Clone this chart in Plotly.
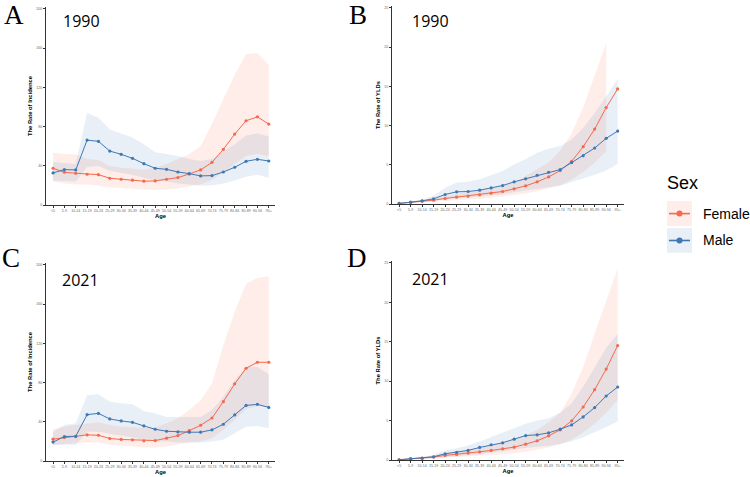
import plotly.graph_objects as go

ages = ["<5", "5-9", "10-14", "15-19", "20-24", "25-29", "30-34", "35-39", "40-44", "45-49",
        "50-54", "55-59", "60-64", "65-69", "70-74", "75-79", "80-84", "85-89", "90-94", "95+"]

# Panel A: incidence 1990
inc1990_f = [37.6, 33.5, 32.5, 31.5, 31.1, 27.4, 26.4, 25.4, 24.4, 24.7, 26.4, 28.1, 31.8, 35.9, 43.6, 56.8, 72.4, 86.0, 90.0, 82.6]
inc1990_f_up = [53.5, 52, 51.5, 47, 46, 40, 38, 37, 36, 38, 42, 47, 52, 60, 83, 108, 133, 154, 155, 143]
inc1990_f_lo = [24, 22, 21, 21, 20, 18, 17.5, 17, 16, 15.5, 16, 17, 19, 21, 26, 33, 42, 50, 52, 50]
inc1990_m = [32.8, 36.2, 35.9, 66.3, 65.0, 55.1, 51.8, 47.7, 42.3, 37.6, 36.5, 33.8, 32.1, 29.8, 30.1, 33.8, 38.6, 44.7, 46.7, 45.0]
inc1990_m_up = [44, 43, 42, 94, 89, 77, 73, 69, 62, 54, 52, 50, 47, 45, 47, 55, 62, 71, 73, 70]
inc1990_m_lo = [25, 24.5, 24, 39, 40, 35, 33, 31, 28, 25, 24, 22, 21, 20, 20, 22, 25, 29, 31, 28]

# Panel B: YLDs 1990
yld1990_f = [0.09, 0.21, 0.38, 0.51, 0.72, 0.89, 1.02, 1.18, 1.40, 1.61, 1.95, 2.33, 2.84, 3.47, 4.27, 5.46, 7.32, 9.56, 12.3, 14.68]
yld1990_f_up = [0.15, 0.3, 0.5, 0.75, 1.05, 1.3, 1.5, 1.7, 2.0, 2.3, 2.75, 3.6, 4.4, 5.3, 6.8, 9.0, 12.3, 16.3, 20.5, None]
yld1990_f_lo = [0.05, 0.12, 0.22, 0.3, 0.42, 0.52, 0.6, 0.7, 0.82, 0.95, 1.15, 1.35, 1.65, 2.0, 2.45, 3.1, 4.1, 5.3, 6.7, None]
yld1990_m = [0.09, 0.25, 0.42, 0.68, 1.23, 1.57, 1.61, 1.78, 2.07, 2.37, 2.84, 3.22, 3.68, 4.06, 4.4, 5.29, 6.18, 7.15, 8.38, 9.31]
yld1990_m_up = [0.15, 0.35, 0.6, 1.06, 2.1, 2.75, 2.84, 3.17, 3.68, 4.23, 5.07, 5.71, 6.56, 7.06, 7.4, 8.25, 9.7, 11.6, 13.7, 15.95]
yld1990_m_lo = [0.05, 0.15, 0.25, 0.4, 0.65, 0.8, 0.85, 0.95, 1.1, 1.25, 1.5, 1.7, 1.95, 2.15, 2.35, 2.8, 3.25, 3.75, 4.3, 5.1]

# Panel C: incidence 2021
inc2021_f = [22.3, 24, 25, 26.7, 26.3, 23, 22, 21.6, 20.6, 20.9, 23.3, 26, 31, 36.5, 43.9, 60.5, 78.7, 94.6, 100.7, 100.7]
inc2021_f_up = [32.4, 35, 36.8, 38.5, 39.5, 36.8, 35, 34.5, 33.4, 34.5, 38.5, 43.6, 52, 62, 79, 118, 152, 180.7, 186.5, 188.5]
inc2021_f_lo = [16.5, 17.6, 18.2, 19, 19, 16.5, 15.5, 14.9, 13.9, 13.9, 14.9, 16.9, 19, 20, 23.3, 31.8, 42, 53, 56, 55]
inc2021_m = [19.3, 25, 25.3, 47.3, 48.6, 42.9, 40.9, 39.5, 35.8, 32.4, 30.4, 29.7, 29.4, 29.4, 31.8, 37.5, 47, 56.7, 57.8, 54.7]
inc2021_m_up = [30, 36.8, 38.5, 67, 68, 60.5, 58.8, 57.8, 51, 48.6, 45, 45, 45, 45, 52, 65.5, 82, 96, 96, 88.5]
inc2021_m_lo = [16, 16.5, 16.5, 30, 30, 27.7, 25.7, 24.3, 21.6, 20, 20, 19, 19, 19, 20, 21.6, 28.4, 35, 35.8, 33.4]

# Panel D: YLDs 2021
yld2021_f = [0.04, 0.13, 0.21, 0.38, 0.59, 0.72, 0.88, 1.05, 1.22, 1.43, 1.64, 2.02, 2.44, 3.07, 3.83, 4.97, 6.73, 8.92, 11.53, 14.52]
yld2021_f_up = [0.08, 0.2, 0.35, 0.6, 0.9, 1.1, 1.35, 1.6, 1.85, 2.15, 2.5, 3.1, 3.8, 4.8, 6.0, 8.4, 11.8, 16.0, 20.2, 24.3]
yld2021_f_lo = [0.02, 0.06, 0.1, 0.2, 0.3, 0.38, 0.46, 0.55, 0.65, 0.75, 0.85, 1.05, 1.3, 1.6, 2.0, 2.6, 3.5, 4.6, 6.0, 7.6]
yld2021_m = [0.04, 0.17, 0.25, 0.42, 0.8, 0.97, 1.22, 1.6, 1.94, 2.19, 2.65, 3.11, 3.2, 3.45, 3.91, 4.46, 5.47, 6.65, 8.12, 9.26]
yld2021_m_up = [0.1, 0.25, 0.4, 0.65, 1.2, 1.5, 1.85, 2.35, 2.9, 3.4, 4.0, 4.6, 5.0, 5.3, 6.0, 7.2, 9.3, 11.7, 14.2, 16.0]
yld2021_m_lo = [0.02, 0.08, 0.13, 0.22, 0.4, 0.5, 0.62, 0.78, 0.95, 1.1, 1.3, 1.55, 1.65, 1.8, 2.05, 2.4, 2.9, 3.5, 4.2, 4.9]

inc_ticks = [0, 40, 80, 120, 160, 200]
yld_ticks = [0, 5, 10, 15, 20, 25]

W, H = 750, 477
F_COL = "#F6694E"
M_COL = "#3F79B4"
F_BAND = "rgba(246,105,78,0.12)"
M_BAND = "rgba(63,121,180,0.12)"


def px(x):
    return x / W


def py(y):
    return 1 - y / H


fig = go.Figure()


def band(xa, ya, up, lo, color):
    xs, us, ls = [], [], []
    for a, u, l in zip(ages, up, lo):
        if u is None or l is None:
            continue
        xs.append(a)
        us.append(u)
        ls.append(l)
    fig.add_trace(go.Scatter(x=xs + xs[::-1], y=us + ls[::-1], fill="toself", fillcolor=color,
                             line=dict(width=0), mode="lines", hoverinfo="skip",
                             showlegend=False, xaxis=xa, yaxis=ya))


def line(xa, ya, vals, color, name):
    fig.add_trace(go.Scatter(x=ages, y=vals, mode="lines+markers", name=name,
                             line=dict(color=color, width=1),
                             marker=dict(color=color, size=3.2),
                             showlegend=False, xaxis=xa, yaxis=ya))


panels = [
    ("x", "y", inc1990_f, inc1990_f_up, inc1990_f_lo, inc1990_m, inc1990_m_up, inc1990_m_lo),
    ("x2", "y2", yld1990_f, yld1990_f_up, yld1990_f_lo, yld1990_m, yld1990_m_up, yld1990_m_lo),
    ("x3", "y3", inc2021_f, inc2021_f_up, inc2021_f_lo, inc2021_m, inc2021_m_up, inc2021_m_lo),
    ("x4", "y4", yld2021_f, yld2021_f_up, yld2021_f_lo, yld2021_m, yld2021_m_up, yld2021_m_lo),
]
for xa, ya, f, fu, fl, m, mu, ml in panels:
    band(xa, ya, fu, fl, F_BAND)
    band(xa, ya, mu, ml, M_BAND)
    line(xa, ya, f, F_COL, "Female")
    line(xa, ya, m, M_COL, "Male")

tick_font = dict(family="Liberation Sans", size=3.6, color="#666666")
title_font = dict(family="Liberation Sans", size=5.8, color="black")

xdom_left = [px(46), px(275)]
xdom_right = [px(392), px(624)]


def xaxis_cfg(dom, anchor):
    return dict(domain=dom, anchor=anchor, type="category", categoryorder="array", categoryarray=ages,
                range=[-0.62, 19.55], showline=True, linecolor="#333333", linewidth=1,
                ticks="outside", ticklen=2, tickwidth=0.8, tickcolor="#333333",
                showgrid=False, zeroline=False, tickfont=tick_font, tickangle=0,
                title=dict(text="<b>Age</b>", font=title_font, standoff=0))


def yaxis_cfg(dom, anchor, rng, ticks, title):
    return dict(domain=dom, anchor=anchor, range=rng, tickvals=ticks, showline=True,
                linecolor="#333333", linewidth=1, ticks="outside", ticklen=2, tickwidth=0.8,
                tickcolor="#333333", showgrid=False, zeroline=False, tickfont=tick_font,
                title=dict(text="<b>" + title + "</b>", font=title_font, standoff=3))


fig.update_layout(
    width=W, height=H, margin=dict(l=0, r=0, t=0, b=0),
    paper_bgcolor="white", plot_bgcolor="white", showlegend=False,
    xaxis=xaxis_cfg(xdom_left, "y"),
    yaxis=yaxis_cfg([py(206), py(7)], "x", [0, 202], inc_ticks, "The Rate of Incidence"),
    xaxis2=xaxis_cfg(xdom_right, "y2"),
    yaxis2=yaxis_cfg([py(205), py(6)], "x2", [0, 25.25], yld_ticks, "The Rate of YLDs"),
    xaxis3=xaxis_cfg(xdom_left, "y3"),
    yaxis3=yaxis_cfg([py(463), py(264)], "x3", [0, 202], inc_ticks, "The Rate of Incidence"),
    xaxis4=xaxis_cfg(xdom_right, "y4"),
    yaxis4=yaxis_cfg([py(462), py(262)], "x4", [0, 25.25], yld_ticks, "The Rate of YLDs"),
)

annotations = []
# panel letters
for letter, cx, cy in [("A", 14, 15), ("B", 358, 15), ("C", 11, 259), ("D", 357, 259)]:
    annotations.append(dict(text=letter, x=px(cx), y=py(cy), xref="paper", yref="paper",
                            showarrow=False, xanchor="center", yanchor="middle",
                            font=dict(family="Liberation Serif", size=27, color="black")))
# year labels
for year, cx, cy in [("1990", 81, 21), ("1990", 430, 21), ("2021", 80, 281), ("2021", 430, 280)]:
    annotations.append(dict(text=year, x=px(cx), y=py(cy), xref="paper", yref="paper",
                            showarrow=False, xanchor="center", yanchor="middle",
                            font=dict(family="Open Sans", size=16, color="black")))

# legend (drawn by hand to match ggplot key style)
annotations.append(dict(text="Sex", x=px(665), y=py(184), xref="paper", yref="paper", showarrow=False,
                        xanchor="left", yanchor="middle",
                        font=dict(family="Liberation Sans", size=18, color="black")))
shapes = []
for name, col, bandcol, top in [("Female", F_COL, F_BAND, 202), ("Male", M_COL, M_BAND, 229)]:
    cy = top + 12.5
    shapes.append(dict(type="rect", xref="paper", yref="paper", x0=px(667), x1=px(692),
                       y0=py(top), y1=py(top + 25), fillcolor=bandcol, line=dict(width=0)))
    shapes.append(dict(type="line", xref="paper", yref="paper", x0=px(669), x1=px(690),
                       y0=py(cy), y1=py(cy), line=dict(color=col, width=1.6)))
    shapes.append(dict(type="circle", xref="paper", yref="paper", x0=px(676.5), x1=px(682.5),
                       y0=py(cy + 3), y1=py(cy - 3), fillcolor=col, line=dict(width=0)))
    annotations.append(dict(text=name, x=px(701), y=py(cy), xref="paper", yref="paper", showarrow=False,
                            xanchor="left", yanchor="middle",
                            font=dict(family="Liberation Sans", size=14, color="black")))

fig.update_layout(annotations=annotations, shapes=shapes)

fig.write_html("out.html")
